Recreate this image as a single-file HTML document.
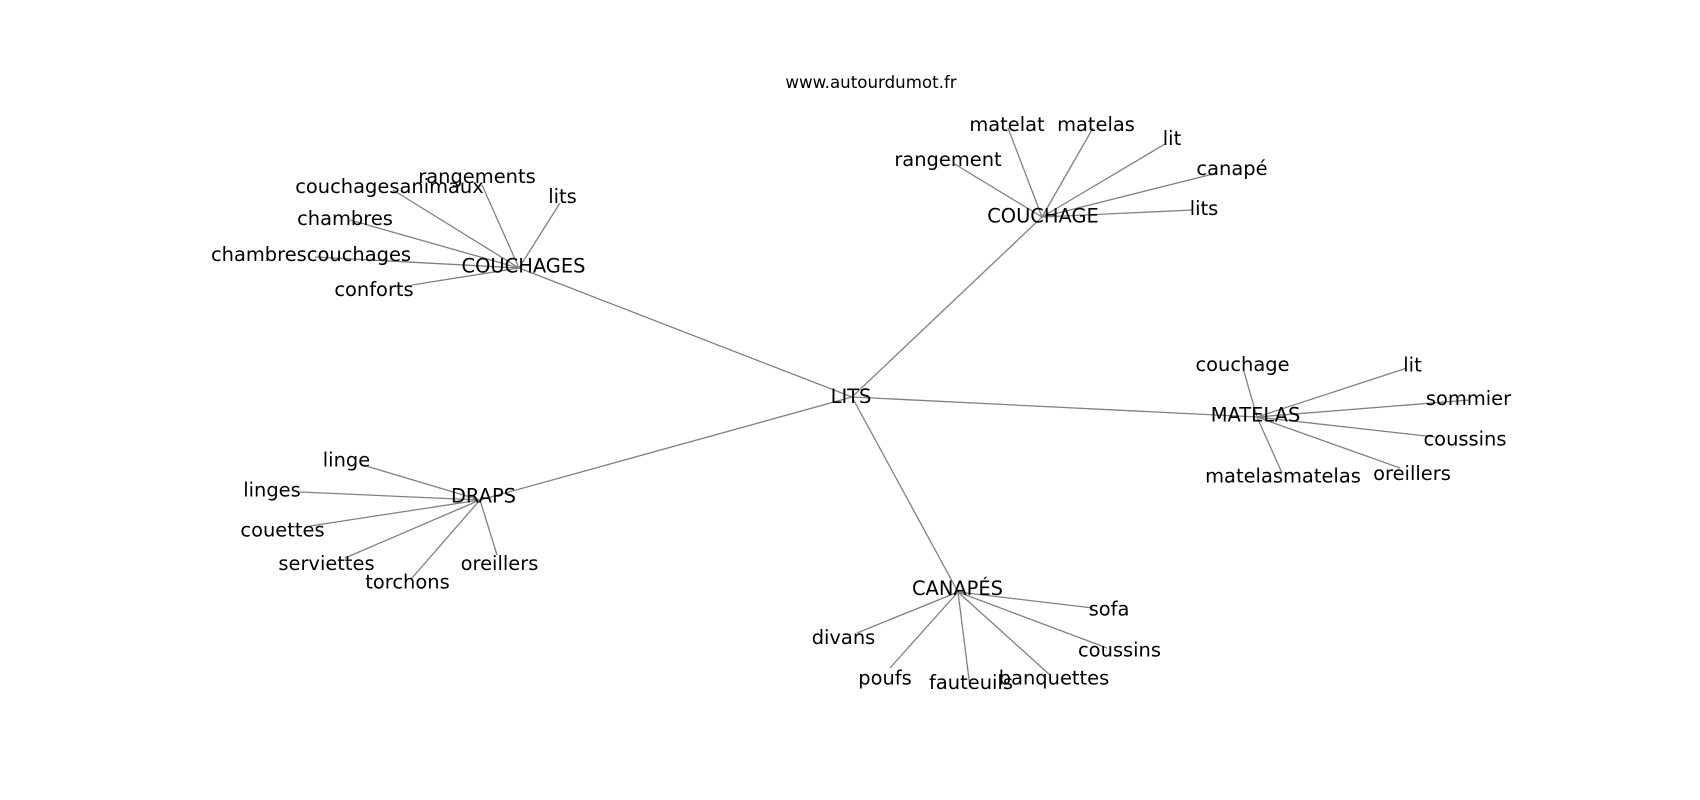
<!DOCTYPE html>
<html>
<head>
<meta charset="utf-8">
<style>
  html, body { margin: 0; padding: 0; background: #ffffff; }
  svg { display: block; }
  text { font-family: "DejaVu Sans", "Liberation Sans", sans-serif; fill: #000; }
  .lbl { font-size: 19.44px; }
  .ttl { font-size: 16.67px; }
  line { stroke: #808080; stroke-width: 1.3; }
</style>
</head>
<body>
<svg width="1700" height="800" viewBox="0 0 1700 800" xmlns="http://www.w3.org/2000/svg">
  <rect x="0" y="0" width="1700" height="800" fill="#ffffff"/>
  <!-- hub edges -->
  <line x1="852" y1="397" x2="519" y2="268"/>
  <line x1="852" y1="397" x2="1042" y2="217"/>
  <line x1="852" y1="397" x2="1257" y2="417"/>
  <line x1="852" y1="397" x2="480" y2="500"/>
  <line x1="852" y1="397" x2="958" y2="592"/>
  <!-- COUCHAGES -->
  <line x1="519" y1="268" x2="482" y2="185"/>
  <line x1="519" y1="268" x2="393" y2="190"/>
  <line x1="519" y1="268" x2="560" y2="203"/>
  <line x1="519" y1="268" x2="350" y2="220"/>
  <line x1="519" y1="268" x2="315" y2="257"/>
  <line x1="519" y1="268" x2="412" y2="285"/>
  <!-- COUCHAGE -->
  <line x1="1042" y1="217" x2="1008" y2="128"/>
  <line x1="1042" y1="217" x2="1093" y2="128"/>
  <line x1="1042" y1="217" x2="953" y2="163"/>
  <line x1="1042" y1="217" x2="1165" y2="144"/>
  <line x1="1042" y1="217" x2="1217" y2="173"/>
  <line x1="1042" y1="217" x2="1193" y2="210"/>
  <!-- MATELAS -->
  <line x1="1257" y1="417" x2="1243" y2="368"/>
  <line x1="1257" y1="417" x2="1407" y2="368"/>
  <line x1="1257" y1="417" x2="1470" y2="400"/>
  <line x1="1257" y1="417" x2="1435" y2="437"/>
  <line x1="1257" y1="417" x2="1400" y2="468"/>
  <line x1="1257" y1="417" x2="1282" y2="473"/>
  <!-- DRAPS -->
  <line x1="480" y1="500" x2="363" y2="465"/>
  <line x1="480" y1="500" x2="300" y2="492"/>
  <line x1="480" y1="500" x2="310" y2="526"/>
  <line x1="480" y1="500" x2="345" y2="558"/>
  <line x1="480" y1="500" x2="412" y2="578"/>
  <line x1="480" y1="500" x2="497" y2="555"/>
  <!-- CANAPES -->
  <line x1="958" y1="592" x2="857" y2="633"/>
  <line x1="958" y1="592" x2="1093" y2="608"/>
  <line x1="958" y1="592" x2="1107" y2="648"/>
  <line x1="958" y1="592" x2="890" y2="668"/>
  <line x1="958" y1="592" x2="970" y2="687"/>
  <line x1="958" y1="592" x2="1050" y2="675"/>

  <!-- title -->
  <text class="ttl" x="871" y="88" text-anchor="middle">www.autourdumot.fr</text>

  <!-- hub labels -->
  <text class="lbl" x="851" y="403" text-anchor="middle">LITS</text>
  <text class="lbl" x="523.5" y="272.5" text-anchor="middle">COUCHAGES</text>
  <text class="lbl" x="1043" y="222.5" text-anchor="middle">COUCHAGE</text>
  <text class="lbl" x="1255.5" y="421.5" text-anchor="middle">MATELAS</text>
  <text class="lbl" x="483.5" y="502.5" text-anchor="middle">DRAPS</text>
  <text class="lbl" x="957.5" y="595" text-anchor="middle">CANAPÉS</text>

  <!-- COUCHAGES leaves -->
  <text class="lbl" x="477" y="183" text-anchor="middle">rangements</text>
  <text class="lbl" x="389.5" y="193" text-anchor="middle">couchagesanimaux</text>
  <text class="lbl" x="562.5" y="203" text-anchor="middle">lits</text>
  <text class="lbl" x="345" y="225" text-anchor="middle">chambres</text>
  <text class="lbl" x="311" y="261" text-anchor="middle">chambrescouchages</text>
  <text class="lbl" x="374" y="296" text-anchor="middle">conforts</text>

  <!-- COUCHAGE leaves -->
  <text class="lbl" x="1007" y="131" text-anchor="middle">matelat</text>
  <text class="lbl" x="1096" y="131" text-anchor="middle">matelas</text>
  <text class="lbl" x="948" y="166" text-anchor="middle">rangement</text>
  <text class="lbl" x="1172" y="145" text-anchor="middle">lit</text>
  <text class="lbl" x="1232" y="175" text-anchor="middle">canapé</text>
  <text class="lbl" x="1204" y="215" text-anchor="middle">lits</text>

  <!-- MATELAS leaves -->
  <text class="lbl" x="1242.5" y="371" text-anchor="middle">couchage</text>
  <text class="lbl" x="1412.5" y="371.5" text-anchor="middle">lit</text>
  <text class="lbl" x="1468.5" y="405" text-anchor="middle">sommier</text>
  <text class="lbl" x="1465" y="445.5" text-anchor="middle">coussins</text>
  <text class="lbl" x="1412" y="480" text-anchor="middle">oreillers</text>
  <text class="lbl" x="1283" y="482.5" text-anchor="middle">matelasmatelas</text>

  <!-- DRAPS leaves -->
  <text class="lbl" x="346.5" y="466.5" text-anchor="middle">linge</text>
  <text class="lbl" x="272" y="496.5" text-anchor="middle">linges</text>
  <text class="lbl" x="282.5" y="536.5" text-anchor="middle">couettes</text>
  <text class="lbl" x="326.5" y="570" text-anchor="middle">serviettes</text>
  <text class="lbl" x="407.5" y="588.5" text-anchor="middle">torchons</text>
  <text class="lbl" x="499.5" y="570" text-anchor="middle">oreillers</text>

  <!-- CANAPES leaves -->
  <text class="lbl" x="843.5" y="644" text-anchor="middle">divans</text>
  <text class="lbl" x="1109" y="615.5" text-anchor="middle">sofa</text>
  <text class="lbl" x="1119.5" y="656.5" text-anchor="middle">coussins</text>
  <text class="lbl" x="885" y="684.5" text-anchor="middle">poufs</text>
  <text class="lbl" x="971" y="689" text-anchor="middle">fauteuils</text>
  <text class="lbl" x="1054" y="684.5" text-anchor="middle">banquettes</text>
</svg>
</body>
</html>
